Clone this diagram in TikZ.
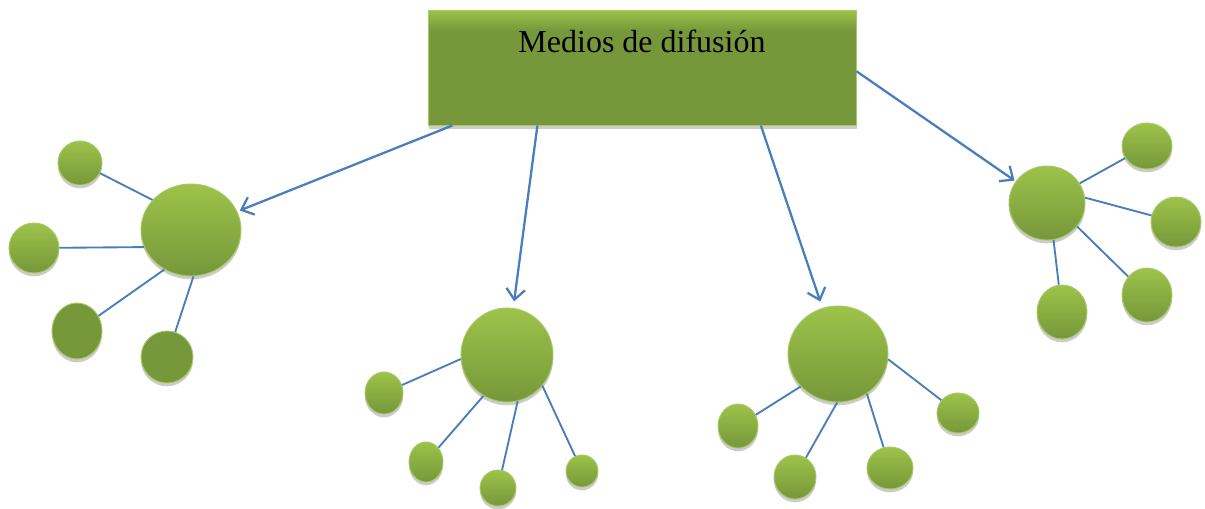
\documentclass[tikz,border=0pt]{standalone}
\usepackage{fontspec}
\setmainfont{Liberation Serif}
\usetikzlibrary{arrows.meta,shapes.geometric,shadows}
\definecolor{lgreen}{HTML}{9DC34A}
\definecolor{dgreen}{HTML}{76973A}
\definecolor{rimgreen}{HTML}{A6CA66}
\definecolor{lineblue}{HTML}{4A7EBB}
\pgfdeclareverticalshading{boxshade}{100bp}{color(0bp)=(dgreen); color(66bp)=(dgreen); color(75bp)=(lgreen); color(100bp)=(lgreen)}
\tikzset{
x=0.75pt, y=-0.75pt,
>={Straight Barb[length=8pt,width=14pt]},
bubble/.style 2 args={ellipse, inner sep=0pt, minimum width=#1*1.5pt, minimum height=#2*1.5pt,
  draw=rimgreen, line width=0.7pt, top color=lgreen, bottom color=dgreen,
  drop shadow={shadow xshift=0pt, shadow yshift=-2.5pt, fill=black!20, opacity=1}},
darkbubble/.style 2 args={bubble={#1}{#2}, top color=dgreen, bottom color=dgreen},
twig/.style={draw=lineblue, line width=1.4pt},
feed/.style={->, draw=lineblue, line width=1.7pt, shorten >=4pt},
}

\begin{document}
\begin{tikzpicture}
    \useasboundingbox (0,0) rectangle (1205,508);

    % title box
    \node[draw=rimgreen, line width=0.7pt, shading=boxshade, minimum width=321pt, inner ysep=0pt,
        text height=31.5pt, text depth=54.75pt, font=\fontsize{24}{28}\selectfont,
        drop shadow={shadow xshift=1pt, shadow yshift=-3pt, fill=black!20, opacity=1}]
        (box) at (642,67.5) {Medios de difusión};

    % first group
    \node[bubble={50}{46}] (m1) at (191,230) {};
    \node[bubble={22}{22}] (m1a) at (80,163) {};
    \node[bubble={25}{25}] (m1b) at (34,248) {};
    \node[darkbubble={25}{28}] (m1c) at (77,331) {};
    \node[darkbubble={26}{26}] (m1d) at (167,357) {};

    % second group
    \node[bubble={46}{47}] (m2) at (507,355) {};
    \node[bubble={19}{21}] (m2a) at (384,393) {};
    \node[bubble={17}{20}] (m2b) at (426,462) {};
    \node[bubble={18}{18}] (m2c) at (498,488) {};
    \node[bubble={16}{16}] (m2d) at (582,471) {};

    % third group
    \node[bubble={50}{48}] (m3) at (838,354) {};
    \node[bubble={20}{22}] (m3a) at (738,426) {};
    \node[bubble={21}{22}] (m3b) at (795,477) {};
    \node[bubble={23}{21}] (m3c) at (890,468) {};
    \node[bubble={21}{20}] (m3d) at (958,413) {};

    % fourth group
    \node[bubble={38}{37}] (m4) at (1047,203) {};
    \node[bubble={25}{23}] (m4a) at (1147,146) {};
    \node[bubble={25}{25}] (m4b) at (1176,222) {};
    \node[bubble={25}{27}] (m4c) at (1147,295) {};
    \node[bubble={25}{27}] (m4d) at (1062,312) {};

    \foreach \m/\s/\a in {1/a/142, 1/b/200, 1/c/236, 1/d/273,
                          2/a/185, 2/b/240, 2/c/283, 2/d/319,
                          3/a/221, 3/b/269, 3/c/306, 3/d/354,
                          4/a/31, 4/b/8, 4/c/322, 4/d/280}
        \draw[twig] (m\m.\a) -- (m\m\s);

    \draw[feed, shorten >=2pt] (box.197) -- (m1);
    \draw[feed, shorten >=5pt] (box.209) -- (m2);
    \draw[feed, shorten >=5pt] (box.334) -- (m3);
    \draw[feed, shorten >=1pt] (box.359) -- (m4);
\end{tikzpicture}
\end{document}
